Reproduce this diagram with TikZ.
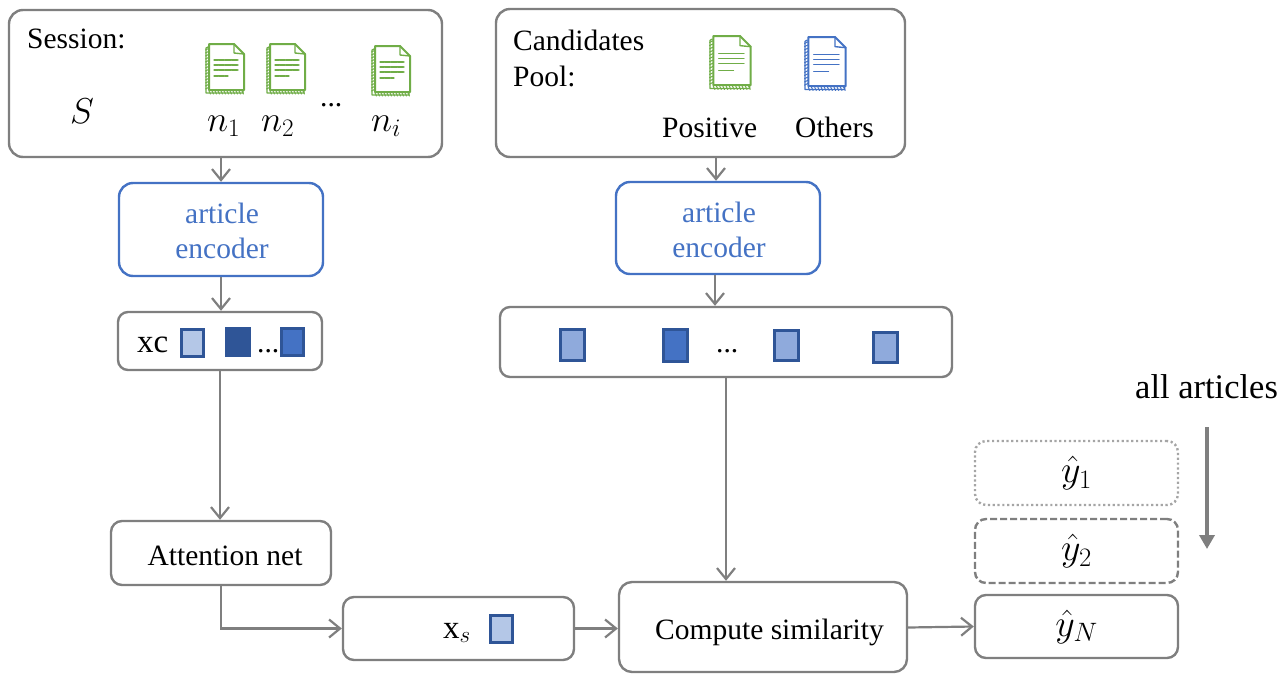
\RequirePackage{fix-cm}
\documentclass[tikz,border=0pt]{standalone}
\usepackage{fontspec}
\setmainfont{Liberation Serif}
\usetikzlibrary{arrows.meta,calc}
\definecolor{gline}{HTML}{7F7F7F}
\definecolor{bluetxt}{HTML}{4472C4}
\definecolor{bdark}{HTML}{2F5597}
\definecolor{bmid}{HTML}{8FAADC}
\definecolor{blight}{HTML}{B4C7E7}
\definecolor{docgreen}{HTML}{70AD47}
\definecolor{docblue}{HTML}{4472C4}
\tikzset{
  rbox/.style={draw=gline,line width=2.4pt,rounded corners=14pt,fill=white,inner sep=0pt,align=center,font=\fontsize{29.5}{35}\selectfont},
  encbox/.style={rbox,draw=bluetxt,text=bluetxt},
  chip/.style={draw=bdark,line width=3pt,inner sep=0pt},
  lbl/.style={inner sep=0pt,anchor=base west,font=\fontsize{29.5}{36}\selectfont},
  mathlbl/.style={inner sep=0pt,anchor=base west,font=\fontsize{36}{40}\selectfont},
  hatfont/.style={font=\fontsize{38}{40}\selectfont},
  conn/.style={draw=gline,line width=2.2pt,-{Straight Barb[length=11pt,width=18pt,line width=2.2pt]}},
  bigconn/.style={draw=gline,line width=3.5pt,-{Triangle[length=14pt,width=15pt]}}
}
\newcommand{\docicon}[4]{%
  \begin{scope}[shift={(#1,#2)},scale=#3,draw=#4,line cap=round,line join=round]
    \draw[line width=2pt,fill=white] (4,0) -- (29,0) -- (39,10) -- (39,46) -- (4,46) -- cycle;
    \draw[line width=1.4pt] (29,0) -- (29,9) -- (39,10);
    \draw[line width=1.3pt] (3,3) -- (1,4) -- (1,49) -- (38,49) -- (38,47);
    \foreach \i in {6,9,...,45} \draw[line width=1pt] (0.5,\i) -- (3.5,\i-1.5);
    \foreach \i in {4,7,...,37} \draw[line width=1pt] (\i,47) -- (\i+1.5,50);
    \foreach \yy/\xx in {16/33,21/33,26/33,32/23}
      \draw[line width=1.2pt,dash pattern=on 2pt off .6pt] (9,\yy) -- (\xx,\yy);
  \end{scope}}
\begin{document}
\begin{tikzpicture}[x=1pt,y=-1pt]
\useasboundingbox (0,0) rectangle (1286,673);
% top containers
\node[rbox,minimum width=433pt,minimum height=147pt] (sess) at (225.5,83.5) {};
\node[rbox,minimum width=409pt,minimum height=148pt] (cand) at (700.5,83) {};
% encoders
\node[encbox,minimum width=204pt,minimum height=93pt] (enc1) at (221,229.5) {\rule{0pt}{24pt}\kern2pt article\\\kern2pt encoder};
\node[encbox,minimum width=204pt,minimum height=92pt] (enc2) at (718,228) {\rule{0pt}{24pt}\kern2pt article\\\kern2pt encoder};
% rows
\node[rbox,rounded corners=10pt,minimum width=204pt,minimum height=58pt] (xcrow) at (220,341) {};
\node[rbox,rounded corners=10pt,minimum width=452pt,minimum height=70pt] (vecs) at (726,342) {};
\node[rbox,rounded corners=11pt,minimum width=220pt,minimum height=64pt] (attn) at (221,553) {\rule{0pt}{26pt}\kern8pt Attention net};
\node[rbox,rounded corners=11pt,minimum width=231pt,minimum height=63pt] (xsbox) at (458.5,628.5) {};
\node[rbox,rounded corners=13pt,minimum width=288pt,minimum height=90pt] (sim) at (763,627) {\rule{0pt}{32pt}\kern13pt Compute similarity};
% outputs
\node[rbox,hatfont,draw=gline!70,dash pattern=on 2.2pt off 2.6pt,rounded corners=11pt,minimum width=203pt,minimum height=64pt] (y1) at (1076.5,473) {$\hat y_1$};
\node[rbox,hatfont,dash pattern=on 7pt off 3pt,rounded corners=11pt,minimum width=203pt,minimum height=64pt] (y2) at (1076.5,551) {$\hat y_2$};
\node[rbox,hatfont,rounded corners=11pt,minimum width=203pt,minimum height=63pt] (yn) at (1076.5,626.5) {$\hat y_N$};
% labels in Session box
\node[lbl] (tsess) at (27,48) {Session:};
\node[mathlbl] (tS) at (70,123) {$S$};
\node[mathlbl] (tn1) at (207,131) {$n_1$};
\node[mathlbl] (tn2) at (261,131) {$n_2$};
\node[lbl] (tdots1) at (320,106) {...};
\node[mathlbl] (tni) at (371,131) {$n_i$};
\docicon{205}{44}{1}{docgreen}
\docicon{266}{44}{1}{docgreen}
\docicon{371}{46}{1}{docgreen}
% labels in Candidates box
\node[lbl] (tcand) at (513,50) {Candidates};
\node[lbl] (tpool) at (513,86) {Pool:};
\node[lbl] (tpos) at (662,137) {Positive};
\node[lbl] (toth) at (795,137) {Others};
\docicon{709}{36}{1.07}{docgreen}
\docicon{804}{37}{1.07}{docblue}
% xc row
\node[lbl,font=\fontsize{33}{36}\selectfont] (txc) at (137,352) {xc};
\node[chip,fill=blight,minimum width=22pt,minimum height=27pt] (c1) at (192,342.5) {};
\node[chip,fill=bdark,minimum width=23pt,minimum height=27pt] (c2) at (237.5,341.5) {};
\node[lbl] (tdots2) at (257,352) {...};
\node[chip,fill=bluetxt,minimum width=22pt,minimum height=27pt] (c3) at (292,342) {};
% vector row
\node[chip,fill=bmid,minimum width=24pt,minimum height=31pt] (v1) at (572,344.5) {};
\node[chip,fill=bluetxt,minimum width=24pt,minimum height=32pt] (v2) at (675,345) {};
\node[lbl] (tdots3) at (716,352) {...};
\node[chip,fill=bmid,minimum width=24pt,minimum height=30pt] (v3) at (786,345) {};
\node[chip,fill=bmid,minimum width=24pt,minimum height=30pt] (v4) at (885,347) {};
% xs
\node[lbl,font=\fontsize{33}{36}\selectfont] (txs) at (443,638) {x$_s$};
\node[chip,fill=blight,minimum width=22pt,minimum height=27pt] (c4) at (501,628.5) {};
% all articles
\node[lbl,font=\fontsize{34.5}{40}\selectfont] (tall) at (1135,398) {all articles};
\coordinate (alltop) at (1207,427);
\coordinate (allbot) at (1207,549);
% connectors
\draw[conn] (enc1.north |- sess.south) -- (enc1.north);
\draw[conn] ($(enc2.north |- cand.south)+(-2,0)$) -- ($(enc2.north)+(-2,0)$);
\draw[conn] (enc1.south) -- (enc1.south |- xcrow.north);
\draw[conn] ($(enc2.south)+(-3,0)$) -- ($(enc2.south |- vecs.north)+(-3,0)$);
\draw[conn] (xcrow.south) -- (xcrow.south |- attn.north);
\draw[conn] (attn.south) |- (xsbox.west);
\draw[conn] (xsbox.east) -- (sim.west |- xsbox.east);
\draw[conn] (vecs.south) -- (vecs.south |- sim.north);
\draw[conn] ($(sim.east |- yn.west)+(0,1)$) -- (yn.west);
\draw[bigconn] (alltop) -- (allbot);
\end{tikzpicture}
\end{document}
